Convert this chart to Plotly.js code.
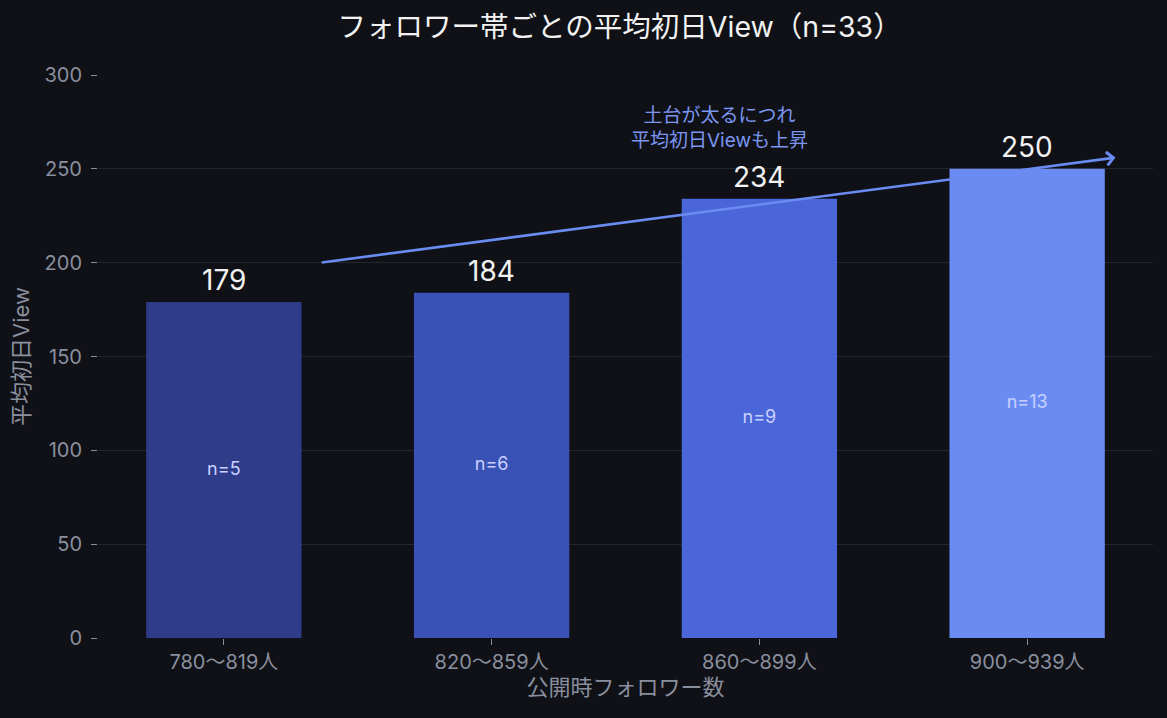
<html>
<head>
<meta charset="utf-8">
<script src="https://cdn.plot.ly/plotly-3.0.1.min.js"></script>
<style>
  body { margin: 0; background: #0f1117; }
  #chart { width: 1167px; height: 718px; }
</style>
</head>
<body>
<div id="chart"></div>
<script>
// follower bands and average first-day views
var bands = ['780〜819人', '820〜859人', '860〜899人', '900〜939人'];
var avgViews = [179, 184, 234, 250];
var counts = [5, 6, 9, 13];
var barColors = ['#2f3c8a', '#3a51b6', '#4a66d8', '#6a8cf2'];

var font = 'Inter, "Noto Sans CJK JP", sans-serif';

var bars = {
  type: 'bar',
  x: bands,
  y: avgViews,
  width: 0.58,
  marker: {color: barColors},
  hoverinfo: 'x+y',
  showlegend: false
};

// n= labels in the middle of each bar
var nLabels = {
  type: 'scatter',
  mode: 'text',
  x: bands,
  y: avgViews.map(function(v) { return v / 2; }),
  text: counts.map(function(n) { return 'n=' + n; }),
  textfont: {family: font, size: 18, color: '#c9d1ff'},
  hoverinfo: 'skip',
  showlegend: false
};

var annots = avgViews.map(function(v, i) {
  return {
    x: bands[i], y: v, xref: 'x', yref: 'y',
    text: String(v), showarrow: false,
    yanchor: 'bottom', yshift: 3,
    font: {family: font, size: 28, color: '#f2f2f2'}
  };
});

// trend arrow
annots.push({
  x: 3.33, y: 256, ax: 0.36, ay: 200,
  xref: 'x', yref: 'y', axref: 'x', ayref: 'y',
  text: '', showarrow: true,
  arrowhead: 4, arrowsize: 1, arrowwidth: 2.6, arrowcolor: '#6a8cf2'
});
annots.push({
  x: 1.85, y: 272, xref: 'x', yref: 'y',
  text: '土台が太るにつれ<br>平均初日Viewも上昇',
  showarrow: false,
  font: {family: font, size: 19, color: '#7b95f0'}
});

var layout = {
  width: 1167,
  height: 718,
  paper_bgcolor: '#0f1117',
  plot_bgcolor: '#0f1117',
  margin: {l: 98, r: 14, t: 75, b: 80},
  font: {family: font, color: '#8a8f9e'},
  title: {
    text: 'フォロワー帯ごとの平均初日View（n=33）',
    xref: 'container', x: 0.531, xanchor: 'center', y: 0.962, yanchor: 'middle',
    font: {family: font, size: 28.5, color: '#f2f2f2'}
  },
  xaxis: {
    type: 'category',
    range: [-0.47, 3.47],
    showgrid: false,
    zeroline: false,
    showline: false,
    ticks: 'outside', ticklen: 6, tickcolor: '#8a8f9e', tickwidth: 1,
    tickfont: {family: font, size: 20, color: '#8a8f9e'},
    title: {text: '公開時フォロワー数', font: {family: font, size: 22, color: '#8a8f9e'}, standoff: 6}
  },
  yaxis: {
    range: [0, 300],
    tickvals: [0, 50, 100, 150, 200, 250, 300],
    showgrid: true, gridcolor: '#23262f', gridwidth: 1,
    zeroline: false,
    showline: false,
    ticks: 'outside', ticklen: 6, tickcolor: '#8a8f9e', tickwidth: 1,
    ticklabelstandoff: 5,
    tickfont: {family: font, size: 20, color: '#8a8f9e'},
    title: {text: '平均初日View', font: {family: font, size: 22, color: '#8a8f9e'}, standoff: 8}
  },
  annotations: annots
};

Plotly.newPlot('chart', [bars, nLabels], layout, {displayModeBar: false, staticPlot: true});
</script>
</body>
</html>
